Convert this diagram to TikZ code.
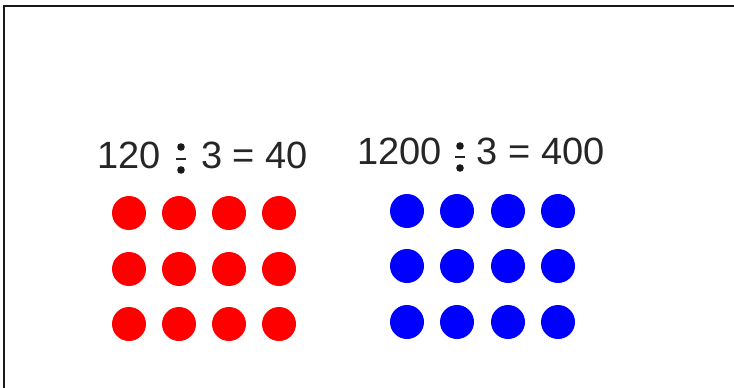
\documentclass[tikz,border=0pt]{standalone}
\usepackage{fontspec}
\setmainfont{Liberation Sans}
\tikzset{
  eqtext/.style={inner sep=0pt, text=black!85, font=\fontsize{38}{40}\selectfont},
  reddot/.style={circle, fill=red, minimum size=34pt, inner sep=0pt},
  bluedot/.style={circle, fill=blue, minimum size=34pt, inner sep=0pt},
  divdot/.style={fill=black!90},
  frameline/.style={draw=black!90, line width=2pt}
}
\begin{document}
\begin{tikzpicture}[x=1pt,y=-1pt]
\useasboundingbox (0,0) rectangle (734,388);
\fill[white] (0,0) rectangle (734,388);
% frame
\draw[frameline] (4,390) -- (4,6) -- (736,6);
% first equation
\node[eqtext, anchor=base west] (a1) at (97,168) {120};
\node[eqtext, anchor=base east] (a2) at (308,168) {3 = 40};
\fill[divdot] (181,147) circle (3.8);
\fill[divdot] (181,170) circle (3.8);
\draw[black!85, line width=1.4pt] (176,159) -- (186,159);
% second equation
\node[eqtext, anchor=base west] (b1) at (357,164) {1200};
\node[eqtext, anchor=base east] (b2) at (605,164) {3 = 400};
\fill[divdot] (460,146) circle (3.8);
\fill[divdot] (460,168) circle (3.8);
\draw[black!85, line width=1.4pt] (455,157) -- (465,157);
% red dots
\foreach \i/\x in {1/129,2/179,3/229,4/279}
  \foreach \j/\y in {1/213,2/269,3/324}
    \node[reddot] (r\i\j) at (\x,\y) {};
% blue dots
\foreach \i/\x in {1/407,2/457,3/508,4/558}
  \foreach \j/\y in {1/211,2/266,3/322}
    \node[bluedot] (u\i\j) at (\x,\y) {};
\end{tikzpicture}
\end{document}
